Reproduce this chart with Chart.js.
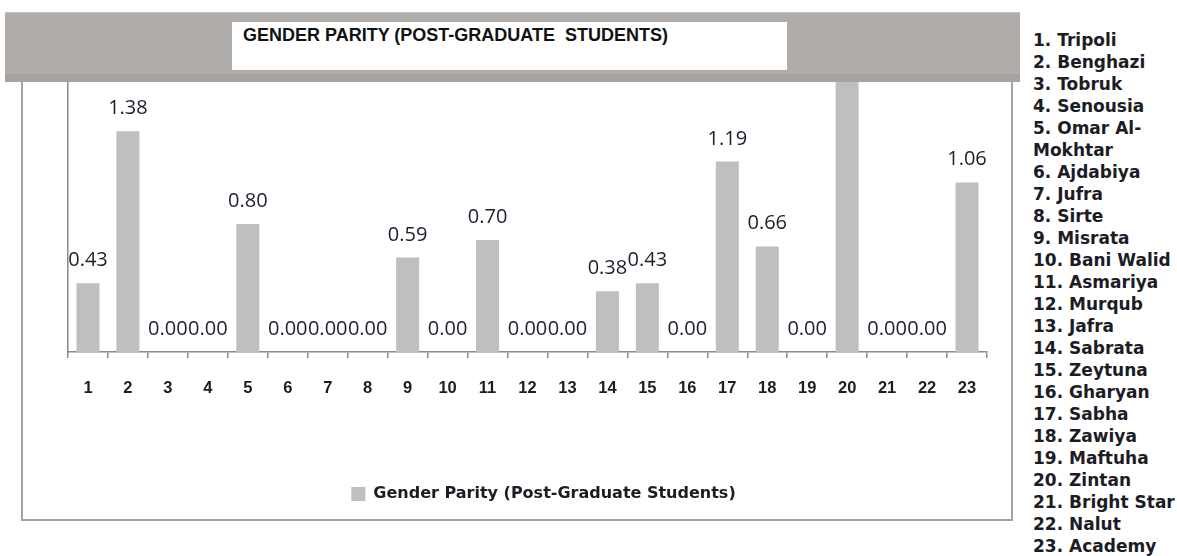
<!DOCTYPE html>
<html>
<head>
<meta charset="utf-8">
<script src="https://cdn.jsdelivr.net/npm/chart.js"></script>
<style>
body { margin: 0; background: #fff; width: 1177px; height: 556px; overflow: hidden; position: relative; font-family: "Liberation Sans", Arial, sans-serif; }
#frame { position: absolute; left: 21px; top: 60px; width: 992px; height: 461px; border: 2px solid #a3a3a3; border-top: none; box-sizing: border-box; }
#chart-box { position: absolute; left: 0; top: 0; width: 1012px; height: 520px; }
#band { position: absolute; left: 5px; top: 12px; width: 1015px; height: 70px; background: #b0acaa; border-top: 1px solid #c4c1bf; border-bottom: 8px solid #a6a3a1; box-sizing: border-box; }
#title-box { position: absolute; left: 232px; top: 22px; width: 555px; height: 48px; background: #fff; }
#title-box span { position: absolute; left: 11px; top: 3px; font: bold 18px/20px "Liberation Sans", Arial, sans-serif; color: #111; white-space: nowrap; }
#names { position: absolute; left: 1033px; top: 29px; font: bold 17px/22px "DejaVu Sans", Verdana, sans-serif; color: #1c1c24; white-space: nowrap; }
</style>
</head>
<body>
<div id="frame"></div>
<div id="chart-box"><canvas id="parityChart" width="1012" height="520"></canvas></div>
<div id="band"></div>
<div id="title-box"><span>GENDER PARITY (POST-GRADUATE&nbsp; STUDENTS)</span></div>
<div id="names"></div>
<script>
// ====================
// Data
// ====================
const categories = ["1","2","3","4","5","6","7","8","9","10","11","12","13","14","15","16","17","18","19","20","21","22","23"];
const parity = [0.43, 1.38, 0, 0, 0.80, 0, 0, 0, 0.59, 0, 0.70, 0, 0, 0.38, 0.43, 0, 1.19, 0.66, 0, 1.85, 0, 0, 1.06];
const seriesName = "Gender Parity (Post-Graduate Students)";
const universities = ["1. Tripoli","2. Benghazi","3. Tobruk","4. Senousia","5. Omar Al-\nMokhtar","6. Ajdabiya","7. Jufra","8. Sirte","9. Misrata","10. Bani Walid","11. Asmariya","12. Murqub","13. Jafra","14. Sabrata","15. Zeytuna","16. Gharyan","17. Sabha","18. Zawiya","19. Maftuha","20. Zintan","21. Bright Star","22. Nalut","23. Academy"];

// ====================
// University list on the right
// ====================
document.getElementById("names").innerHTML = universities.map(u => u.replace("\n", "<br>")).join("<br>");

// ====================
// Value labels above bars
// ====================
const valueLabels = {
    id: "valueLabels",
    afterDatasetsDraw(chart) {
        const ctx = chart.ctx;
        const meta = chart.getDatasetMeta(0);
        ctx.save();
        ctx.font = '20px "Open Sans", sans-serif';
        ctx.fillStyle = "#1e1e2c";
        ctx.textAlign = "center";
        ctx.textBaseline = "alphabetic";
        meta.data.forEach((bar, i) => {
            ctx.fillText(parity[i].toFixed(2), bar.x, bar.y - 17);
        });
        ctx.restore();
    }
};

// legend sits a bit right of the plot centre in the original
const legendShift = {
    id: "legendShift",
    afterLayout(chart) {
        chart.legend.left += 16;
        chart.legend.right += 16;
    }
};

// ====================
// Chart
// ====================
const ctx = document.getElementById("parityChart").getContext("2d");
new Chart(ctx, {
    type: "bar",
    data: {
        labels: categories,
        datasets: [{
            label: seriesName,
            data: parity,
            backgroundColor: "#bfbfbf",
            borderWidth: 0,
            categoryPercentage: 0.8,
            barPercentage: 0.72
        }]
    },
    options: {
        responsive: false,
        animation: false,
        layout: { padding: { left: 68, right: 25, top: 32, bottom: 8 } },
        plugins: {
            tooltip: { enabled: false },
            legend: {
                position: "bottom",
                labels: {
                    boxWidth: 14,
                    boxHeight: 14,
                    color: "#1c1c24",
                    font: { family: '"DejaVu Sans", Verdana, sans-serif', size: 16, weight: "bold" }
                }
            }
        },
        scales: {
            x: {
                grid: { display: true, drawOnChartArea: false, drawTicks: true, tickLength: 6, color: "#8a8a8a", lineWidth: 1.5 },
                border: { display: true, color: "#8a8a8a", width: 1.5 },
                ticks: {
                    padding: 21,
                    color: "#1c1c24",
                    maxRotation: 0,
                    autoSkip: false,
                    font: { family: '"Liberation Sans", Arial, sans-serif', size: 16.5, weight: "bold" }
                },
                afterFit: s => { s.height = 124; }
            },
            y: {
                min: 0,
                max: 2,
                grid: { display: false },
                border: { display: true, color: "#8a8a8a", width: 1.5 },
                ticks: { display: false },
                afterFit: s => { s.width = 0; }
            }
        }
    },
    plugins: [valueLabels, legendShift]
});
</script>
</body>
</html>
